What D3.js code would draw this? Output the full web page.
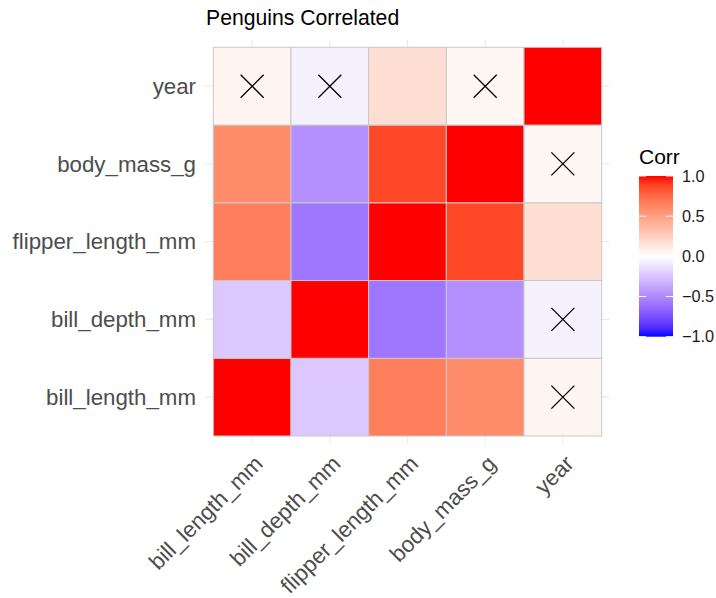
<!DOCTYPE html>
<html><head><meta charset="utf-8">
<script src="https://cdn.jsdelivr.net/npm/d3@7"></script>
<style>body{margin:0;background:#fff}svg{display:block;font-family:"Liberation Sans",Arial,Helvetica,sans-serif}</style>
</head><body>
<svg id="c" width="716" height="598"></svg>
<script>
const variables = ["bill_length_mm","bill_depth_mm","flipper_length_mm","body_mass_g","year"];
// correlation matrix rows (same order as variables)
const corrBillLength   = [1.000, -0.235,  0.656,  0.595,  0.055];
const corrBillDepth    = [-0.235, 1.000, -0.584, -0.472, -0.060];
const corrFlipper      = [0.656, -0.584,  1.000,  0.871,  0.170];
const corrBodyMass     = [0.595, -0.472,  0.871,  1.000,  0.042];
const corrYear         = [0.055, -0.060,  0.170,  0.042,  1.000];
const corrRows = [corrBillLength, corrBillDepth, corrFlipper, corrBodyMass, corrYear];
// insignificant pairs (marked with X)
const insignificant = [["bill_length_mm","year"],["bill_depth_mm","year"],["body_mass_g","year"]];
const legendTicks = [1.0, 0.5, 0.0, -0.5, -1.0];
const title = "Penguins Correlated";

const svg = d3.select("#c");
const tileL = 213.3, tileR = 601.7, tileT = 47.3, tileB = 436;
const x = d3.scaleBand().domain(variables).range([tileL, tileR]).padding(0);
const y = d3.scaleBand().domain(variables.slice().reverse()).range([tileT, tileB]).padding(0);
const expand = x.bandwidth() * 0.1;

const col = v => v >= 0 ? d3.interpolateLab("#ffffff", "#ff0000")(v) : d3.interpolateLab("#ffffff", "#0000ff")(-v);

// grid lines
const g = svg.append("g");
variables.forEach(v => {
  const cx = x(v) + x.bandwidth()/2;
  g.append("line").attr("x1", cx).attr("x2", cx).attr("y1", tileT - expand).attr("y2", tileB + expand)
    .attr("stroke", "#ebebeb").attr("stroke-width", 1.1);
  const cy = y(v) + y.bandwidth()/2;
  g.append("line").attr("y1", cy).attr("y2", cy).attr("x1", tileL - expand).attr("x2", tileR + expand)
    .attr("stroke", "#ebebeb").attr("stroke-width", 1.1);
});

// tiles
const cells = [];
variables.forEach((rv, i) => variables.forEach((cv, j) => cells.push({row: rv, col: cv, v: corrRows[i][j]})));
svg.append("g").selectAll("rect").data(cells).join("rect")
  .attr("x", d => x(d.col)).attr("y", d => y(d.row))
  .attr("width", x.bandwidth()).attr("height", y.bandwidth())
  .attr("fill", d => col(d.v)).attr("stroke", "#c8c8c8").attr("stroke-width", 1);

// crosses
const crossPairs = [];
insignificant.forEach(([a, b]) => { crossPairs.push([a, b]); crossPairs.push([b, a]); });
const half = 11.5;
const cg = svg.append("g");
crossPairs.forEach(([c, r]) => {
  const cx = x(c) + x.bandwidth()/2, cy = y(r) + y.bandwidth()/2;
  cg.append("path").attr("d", `M${cx-half},${cy-half}L${cx+half},${cy+half}M${cx-half},${cy+half}L${cx+half},${cy-half}`)
    .attr("stroke", "#000").attr("stroke-width", 1.3).attr("fill", "none");
});

// y labels
svg.append("g").selectAll("text").data(variables).join("text")
  .attr("x", 196).attr("y", d => y(d) + y.bandwidth()/2).attr("dy", "0.35em")
  .attr("text-anchor", "end").attr("fill", "#4d4d4d").attr("font-size", 22.3).text(d => d);

// x labels
svg.append("g").selectAll("text").data(variables).join("text")
  .attr("transform", d => `translate(${x(d) + x.bandwidth()/2 + 1},${454}) rotate(-45)`)
  .attr("text-anchor", "end").attr("dy", "0.7em").attr("fill", "#4d4d4d").attr("font-size", 22.3).text(d => d);

// title
svg.append("text").attr("x", 206).attr("y", 25).attr("font-size", 21.2).attr("fill", "#000").text(title);

// legend
const lx = 639, lw = 34;
const ly = d3.scaleLinear().domain([1, -1]).range([176, 336.7]);
const defs = svg.append("defs");
const grad = defs.append("linearGradient").attr("id", "lg").attr("x1", 0).attr("x2", 0).attr("y1", 0).attr("y2", 1);
d3.range(0, 1.0001, 0.05).forEach(t => {
  grad.append("stop").attr("offset", t).attr("stop-color", col(1 - 2*t));
});
svg.append("rect").attr("x", lx).attr("y", ly(1)).attr("width", lw).attr("height", ly(-1) - ly(1)).attr("fill", "url(#lg)");
legendTicks.forEach(t => {
  const ty = ly(t);
  svg.append("line").attr("x1", lx).attr("x2", lx + 7).attr("y1", ty).attr("y2", ty).attr("stroke", "#fff").attr("stroke-width", 1);
  svg.append("line").attr("x1", lx + lw - 7).attr("x2", lx + lw).attr("y1", ty).attr("y2", ty).attr("stroke", "#fff").attr("stroke-width", 1);
  svg.append("text").attr("x", 682).attr("y", ty).attr("dy", "0.35em").attr("font-size", 16.3).attr("fill", "#1a1a1a")
    .text(d3.format(".1f")(t).replace("-", "\u2212"));
});
svg.append("text").attr("x", 639).attr("y", 164).attr("font-size", 21).attr("fill", "#000").text("Corr");
</script>
</body></html>
